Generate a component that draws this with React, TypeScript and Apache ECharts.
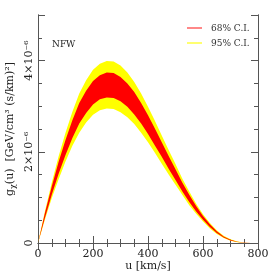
import React, { useEffect, useRef } from "react";
import * as echarts from "echarts";

// velocity grid (km/s)
const U = [0, 25, 50, 75, 100, 125, 150, 175, 200, 225, 250, 275, 300, 325, 350, 375, 400, 425, 450, 475, 500, 525, 550, 575, 600, 625, 650, 675, 700, 725, 750, 775];
// values in units of 1e-6 GeV/cm^3 (s/km)^2
const yellowUpper = [0, 0.69, 1.32, 1.9, 2.42, 2.88, 3.28, 3.57, 3.8, 3.93, 3.99, 3.98, 3.89, 3.74, 3.53, 3.28, 2.99, 2.68, 2.36, 2.04, 1.73, 1.41, 1.13, 0.86, 0.63, 0.44, 0.28, 0.16, 0.08, 0.035, 0.012, 0];
const redUpper = [0, 0.65, 1.24, 1.78, 2.26, 2.69, 3.07, 3.34, 3.55, 3.68, 3.74, 3.73, 3.64, 3.5, 3.31, 3.07, 2.8, 2.51, 2.21, 1.91, 1.62, 1.32, 1.06, 0.81, 0.59, 0.41, 0.26, 0.145, 0.07, 0.03, 0.009, 0];
const redLower = [0, 0.55, 1.06, 1.52, 1.93, 2.3, 2.62, 2.85, 3.04, 3.15, 3.19, 3.18, 3.11, 2.99, 2.82, 2.62, 2.39, 2.14, 1.89, 1.63, 1.38, 1.13, 0.9, 0.69, 0.51, 0.35, 0.22, 0.12, 0.055, 0.02, 0.006, 0];
const yellowLower = [0, 0.51, 0.98, 1.4, 1.79, 2.13, 2.42, 2.64, 2.81, 2.91, 2.95, 2.94, 2.87, 2.76, 2.61, 2.42, 2.21, 1.98, 1.74, 1.5, 1.28, 1.05, 0.83, 0.64, 0.47, 0.32, 0.2, 0.11, 0.05, 0.017, 0.004, 0];

const yMajorTicks = [0, 2, 4];
const yTickLabels = ["0", "2×10⁻⁶", "4×10⁻⁶"];
const legendNames = ["68% C.I.", "95% C.I."];

const FONT = "DejaVu Serif";
const AX = "#555";

export default function App() {
  const ref = useRef<HTMLDivElement>(null);
  useEffect(() => {
    if (!ref.current) return;
    const chart = echarts.init(ref.current, null, { renderer: "svg" });
    const bandSeries = (upper: number[], lower: number[], color: string, z: number) => ({
      type: "custom",
      silent: true,
      xAxisIndex: 0,
      yAxisIndex: 0,
      z,
      data: [[0, 0]],
      renderItem: (params: any, api: any) => {
        const top = U.map((u, i) => api.coord([u, upper[i]]));
        const bottom = U.map((u, i) => api.coord([u, lower[i]])).reverse();
        return {
          type: "polygon",
          shape: { points: top.concat(bottom) },
          style: { fill: color, stroke: null },
        };
      },
    });
    const xCommon = {
      type: "value",
      min: 0,
      max: 800,
      interval: 200,
      axisLine: { show: true, lineStyle: { color: AX, width: 1 } },
      axisTick: { show: true, inside: true, length: 7, lineStyle: { color: AX } },
      minorTick: { show: true, splitNumber: 4, length: 4, lineStyle: { color: AX } },
      splitLine: { show: false },
      minorSplitLine: { show: false },
    };
    const yBase = (position: string, interval: number, len: number, labels: boolean) => ({
      type: "value",
      position,
      min: 0,
      max: 5,
      interval,
      axisLine: { show: true, lineStyle: { color: AX, width: 1 } },
      axisTick: { show: true, inside: true, length: len, lineStyle: { color: AX } },
      splitLine: { show: false },
      axisLabel: labels
        ? {
            show: true,
            rotate: 90,
            margin: 4,
            fontFamily: FONT,
            fontSize: 11,
            color: "#222",
            formatter: (v: number) => {
              const idx = yMajorTicks.findIndex((t) => Math.abs(t - v) < 1e-9);
              return idx >= 0 ? yTickLabels[idx] : "";
            },
          }
        : { show: false },
    });
    chart.setOption({
      animation: false,
      grid: { left: 38, right: 15, top: 15, bottom: 30, containLabel: false, outerBoundsMode: "none" },
      legend: {
        data: legendNames,
        orient: "vertical",
        left: 182,
        top: 18,
        itemWidth: 15,
        itemHeight: 1.5,
        itemGap: 5,
        icon: "rect",
        textStyle: { fontFamily: FONT, fontSize: 9, color: "#333", lineHeight: 10, padding: [0, 0, 0, 4] },
        selectedMode: false,
      },
      xAxis: [
        {
          ...xCommon,
          position: "bottom",
          name: "u [km/s]",
          nameLocation: "middle",
          nameGap: 17,
          nameMoveOverlap: false,
          nameTextStyle: { fontFamily: FONT, fontSize: 11, color: "#222" },
          axisLabel: { show: true, margin: 5, fontFamily: FONT, fontSize: 11, color: "#222" },
        },
        { ...xCommon, position: "top", axisLabel: { show: false } },
      ],
      yAxis: [
        {
          ...yBase("left", 2, 7, true),
          name: "{g|g}{s|χ}{g|(u)  [GeV/cm³ (s/km)²]}",
          nameLocation: "middle",
          nameGap: 22,
          nameMoveOverlap: false,
          nameTextStyle: {
            fontFamily: FONT,
            fontSize: 11,
            color: "#222",
            rich: {
              g: { fontFamily: FONT, fontSize: 11, color: "#222", lineHeight: 14, verticalAlign: "middle" },
              s: { fontFamily: FONT, fontSize: 8, color: "#222", lineHeight: 14, verticalAlign: "bottom", padding: [4, 0, 0, 0] },
            },
          },
        },
        yBase("left", 0.5, 4, false),
        yBase("right", 2, 7, false),
        yBase("right", 0.5, 4, false),
      ],
      graphic: [
        {
          type: "text",
          left: 52,
          top: 39,
          style: { text: "NFW", font: `9px "${FONT}"`, fill: "#222" },
        },
      ],
      series: [
        bandSeries(yellowUpper, yellowLower, "#ffff00", 2),
        bandSeries(redUpper, redLower, "#ff0000", 3),
        { name: legendNames[0], type: "line", data: [], itemStyle: { color: "#ff6060" }, lineStyle: { color: "#ff6060" } },
        { name: legendNames[1], type: "line", data: [], itemStyle: { color: "#ffff40" }, lineStyle: { color: "#ffff40" } },
      ],
    });
    return () => chart.dispose();
  }, []);
  return <div ref={ref} style={{ position: "fixed", left: 0, top: 0, width: 273, height: 273 }} />;
}
